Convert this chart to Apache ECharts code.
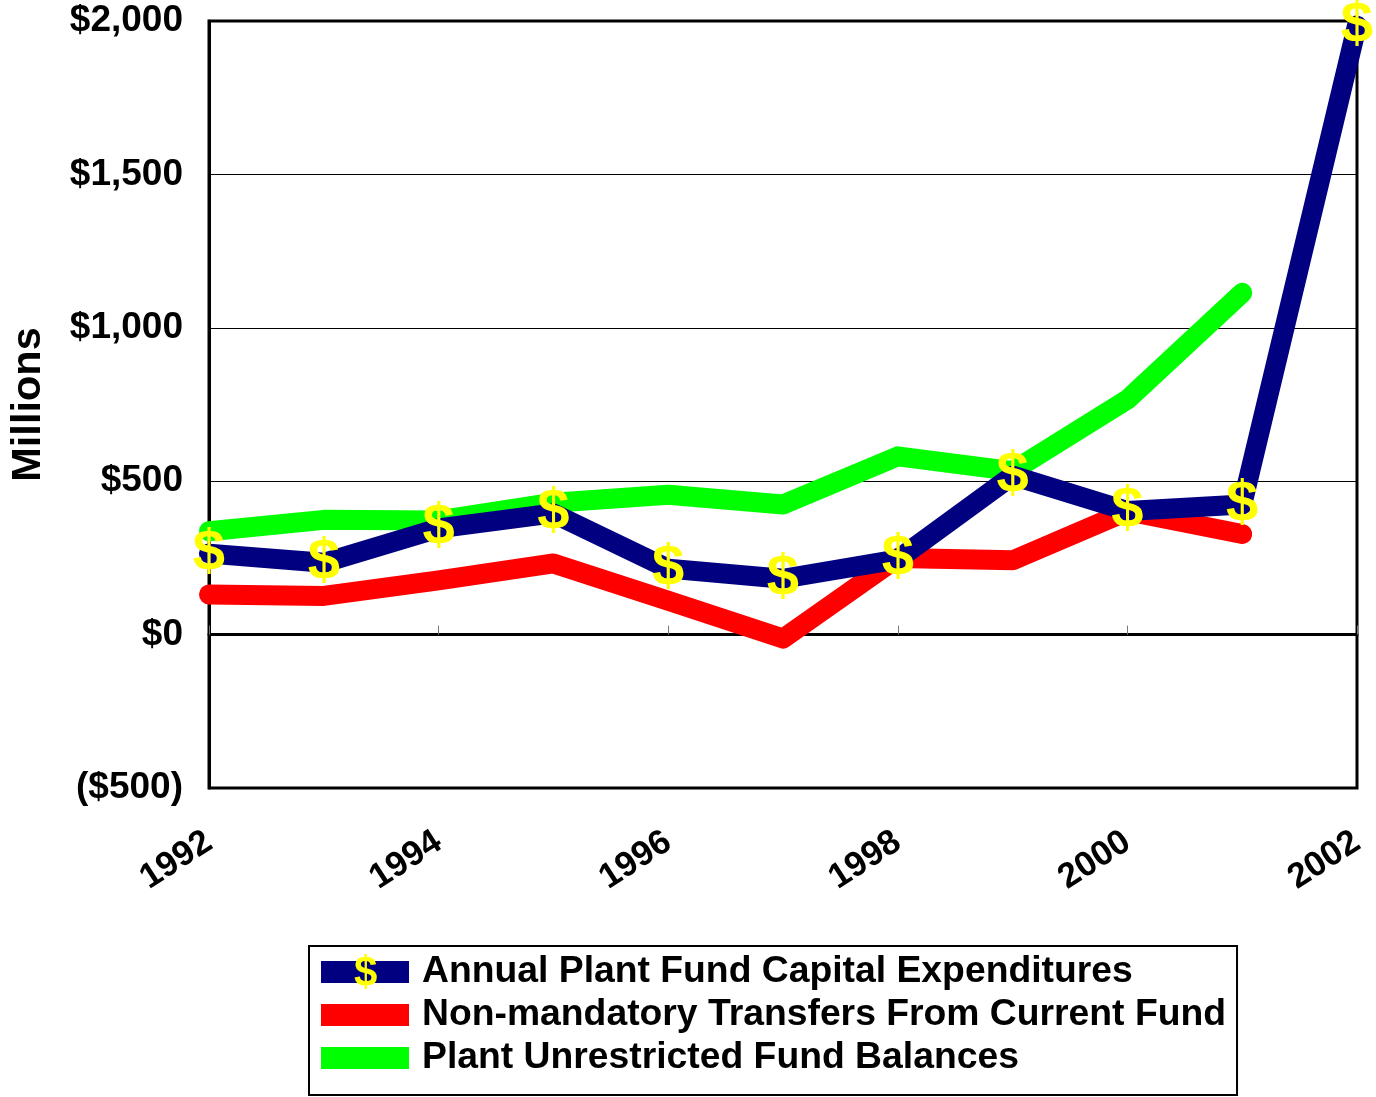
<!DOCTYPE html>
<html>
<head>
<meta charset="utf-8">
<script src="https://cdn.jsdelivr.net/npm/echarts@6/dist/echarts.min.js"></script>
<style>
html,body{margin:0;padding:0;background:#fff;}
#chart{width:1376px;height:1097px;}
</style>
</head>
<body>
<div id="chart"></div>
<script>
var years = ['1992','1993','1994','1995','1996','1997','1998','1999','2000','2001','2002'];
var capitalExpenditures = [264, 234, 346, 395, 215, 182, 245, 518, 403, 424, 1985];
var transfersFromCurrent = [131, 126, 177, 232, 110, -13, 250, 242, 402, 328, null];
var unrestrictedBalances = [337, 374, 372, 430, 456, 424, 581, 533, 766, 1114, null];
var seriesNames = [
  'Annual Plant Fund Capital Expenditures',
  'Non-mandatory Transfers From Current Fund',
  'Plant Unrestricted Fund Balances'
];
var yMin = -500, yMax = 2000, yStep = 500;

var FONT = '"Liberation Sans", Arial, sans-serif';
function money(v){
  var a = Math.abs(v).toLocaleString('en-US');
  return v < 0 ? '($' + a + ')' : '$' + a;
}

var chart = echarts.init(document.getElementById('chart'), null, {renderer:'canvas'});
chart.setOption({
  animation: false,
  backgroundColor: '#ffffff',
  textStyle: {fontFamily: FONT},
  grid: {left: 206, right: 19, top: 21, bottom: 309, show: true, borderColor: '#000', borderWidth: 3, backgroundColor: 'transparent'},
  xAxis: {
    type: 'category',
    data: years,
    boundaryGap: false,
    axisLine: {lineStyle: {color: '#000', width: 3}},
    axisTick: {show: true, inside: true, length: 9, interval: 1, lineStyle: {color: '#777', width: 1}},
    axisLabel: {interval: 1, rotate: 33, margin: 51, color: '#000', fontSize: 35, fontWeight: 'bold', fontFamily: FONT},
    splitLine: {show: false}
  },
  yAxis: {
    type: 'value',
    min: yMin, max: yMax, interval: yStep,
    name: 'Millions',
    nameLocation: 'middle',
    nameRotate: 90,
    nameGap: 159,
    nameTextStyle: {fontSize: 41.5, fontWeight: 'bold', color: '#000', fontFamily: FONT},
    axisLine: {show: true, lineStyle: {color: '#000', width: 3}},
    axisTick: {show: false},
    axisLabel: {margin: 26, color: '#000', fontSize: 37, fontWeight: 'bold', fontFamily: FONT, formatter: money},
    splitLine: {show: true, lineStyle: {color: '#000', width: 1}}
  },
  legend: {
    orient: 'vertical',
    left: 309, top: 946,
    padding: [7, 11, 18, 12],
    itemGap: 5,
    itemWidth: 88, itemHeight: 22,
    borderColor: '#000', borderWidth: 2, backgroundColor: '#fff',
    data: [
      {name: seriesNames[0], icon: 'rect'},
      {name: seriesNames[1], icon: 'rect'},
      {name: seriesNames[2], icon: 'rect'}
    ],
    textStyle: {fontSize: 37.3, lineHeight: 24, fontWeight: 'bold', color: '#000', fontFamily: FONT, padding: [14, 0, 0, 8]}
  },
  graphic: [{
    type: 'text', z: 100,
    left: 365 - 11, top: 973 - 20,
    style: {text: '$', fill: '#FFFF00', fontSize: 42, fontWeight: 'bold', fontFamily: FONT}
  }],
  series: [
    {
      name: seriesNames[2], type: 'line', data: unrestrictedBalances,
      symbol: 'none', lineStyle: {color: '#00FF00', width: 20, cap: 'round', join: 'round'},
      itemStyle: {color: '#00FF00'}
    },
    {
      name: seriesNames[1], type: 'line', data: transfersFromCurrent,
      symbol: 'none', lineStyle: {color: '#FF0000', width: 20, cap: 'round', join: 'round'},
      itemStyle: {color: '#FF0000'}
    },
    {
      name: seriesNames[0], type: 'line', data: capitalExpenditures,
      symbol: 'circle', symbolSize: 1, showSymbol: true,
      lineStyle: {color: '#000080', width: 20, cap: 'round', join: 'round'},
      itemStyle: {color: '#000080'},
      label: {show: true, position: 'inside', offset: [0, 5], formatter: '$', color: '#FFFF00', fontSize: 58, fontWeight: 'bold', fontFamily: FONT},
      labelLayout: {hideOverlap: false}
    }
  ]
});
</script>
</body>
</html>
